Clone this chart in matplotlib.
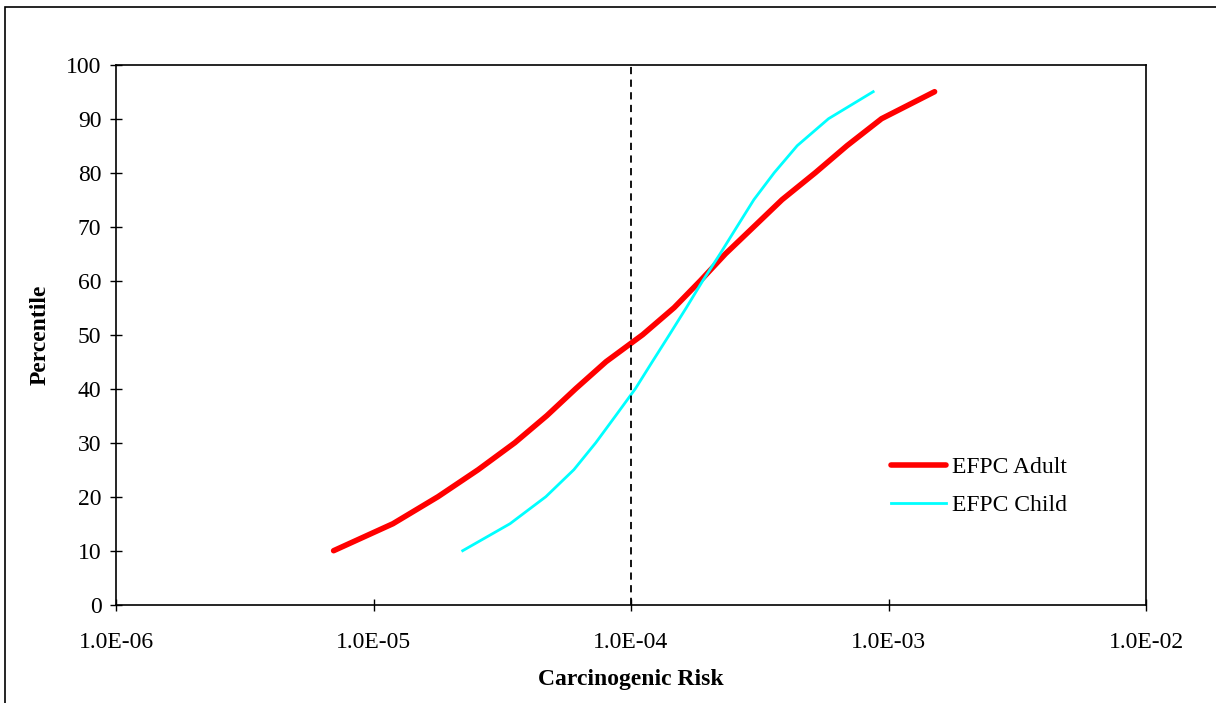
import matplotlib
matplotlib.use('Agg')
import matplotlib.pyplot as plt
from matplotlib.patches import Rectangle

plt.rcParams['font.family'] = ['Liberation Serif', 'DejaVu Serif']

# percentiles and risk values
adult_pct = [10, 15, 20, 25, 30, 35, 40, 45, 50, 55, 60, 65, 70, 75, 80, 85, 90, 95]
adult_risk = [7.0e-6, 1.19e-5, 1.78e-5, 2.55e-5, 3.54e-5, 4.71e-5, 6.1e-5, 8.0e-5,
              1.11e-4, 1.47e-4, 1.86e-4, 2.33e-4, 3.0e-4, 3.86e-4, 5.2e-4, 6.9e-4,
              9.4e-4, 1.51e-3]

child_pct = [10, 15, 20, 25, 30, 35, 40, 45, 50, 55, 60, 65, 70, 75, 80, 85, 90, 95]
child_risk = [2.22e-5, 3.39e-5, 4.67e-5, 6.0e-5, 7.3e-5, 8.72e-5, 1.04e-4, 1.21e-4,
              1.41e-4, 1.64e-4, 1.9e-4, 2.22e-4, 2.58e-4, 3.0e-4, 3.6e-4, 4.42e-4,
              5.85e-4, 8.72e-4]

ref_risk = 1.0e-4
xticks = [1e-6, 1e-5, 1e-4, 1e-3, 1e-2]
xlabels = ['1.0E-06', '1.0E-05', '1.0E-04', '1.0E-03', '1.0E-02']

fig = plt.figure(figsize=(12.16, 7.03), dpi=100)
ax = fig.add_axes([116/1216, 1 - 604.7/703, 1030/1216, 540/703])

# outer chart border
fig.patches.append(Rectangle((5/1216, -0.01), 1.02, 1 - 7/703 + 0.01,
                             transform=fig.transFigure, fill=False,
                             edgecolor='black', linewidth=1.2))

ax.plot(adult_risk, adult_pct, color='red', linewidth=4, solid_capstyle='round',
        label='EFPC Adult')
ax.plot(child_risk, child_pct, color='cyan', linewidth=2, label='EFPC Child')
ax.axvline(ref_risk, color='black', linestyle=(0, (4, 3)), linewidth=1.3)

ax.set_xscale('log')
ax.set_xlim(1e-6, 1e-2)
ax.set_ylim(0, 100)
ax.set_xticks(xticks)
ax.set_xticklabels(xlabels)
ax.minorticks_off()
ax.set_yticks(range(0, 101, 10))
ax.tick_params(axis='both', direction='inout', length=9, width=1, labelsize=17, pad=6)
ax.tick_params(axis='x', pad=15)
for s in ax.spines.values():
    s.set_linewidth(1.2)

ax.set_xlabel('Carcinogenic Risk', fontsize=17, fontweight='bold', labelpad=12)
ax.set_ylabel('Percentile', fontsize=17, fontweight='bold', labelpad=11)

ax.legend(loc='lower right', bbox_to_anchor=(0.944, 0.125), frameon=False, fontsize=17,
          handlelength=2.35, handletextpad=0.25, labelspacing=0.7)

fig.savefig('out.png', dpi=100)
